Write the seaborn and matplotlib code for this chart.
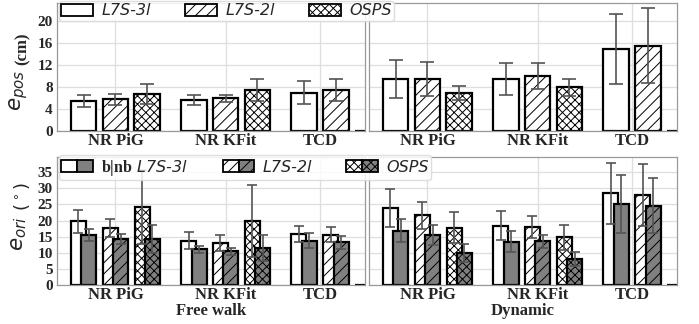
import numpy as np
import pandas as pd
import matplotlib
matplotlib.use("Agg")
import matplotlib.pyplot as plt
import seaborn as sns
from matplotlib.patches import Patch
from matplotlib.legend_handler import HandlerTuple
from matplotlib.font_manager import FontProperties

# ---------------- data ----------------
categories = ["NR PiG", "NR KFit", "TCD"]
methods = ["L7S-3l", "L7S-2l", "OSPS"]
panels = ["Free walk", "Dynamic"]

# position error e_pos (cm)
pos_free_mean = {"L7S-3l": [5.35, 5.5, 6.9], "L7S-2l": [5.7, 5.9, 7.4], "OSPS": [6.7, 7.45, 0.0]}
pos_free_std = {"L7S-3l": [1.05, 0.9, 2.1], "L7S-2l": [0.95, 0.6, 2.0], "OSPS": [1.85, 2.0, 0.0]}
pos_dyn_mean = {"L7S-3l": [9.35, 9.45, 14.8], "L7S-2l": [9.35, 9.9, 15.45], "OSPS": [6.85, 7.9, 0.0]}
pos_dyn_std = {"L7S-3l": [3.5, 2.9, 6.4], "L7S-2l": [3.1, 2.4, 6.8], "OSPS": [1.35, 1.55, 0.0]}

# orientation error e_ori (deg), b = with body, nb = no body
ori_free_b_mean = {"L7S-3l": [19.7, 13.8, 15.8], "L7S-2l": [17.7, 12.9, 15.6], "OSPS": [24.1, 19.9, 0.0]}
ori_free_b_std = {"L7S-3l": [3.5, 2.6, 2.5], "L7S-2l": [2.8, 2.5, 2.4], "OSPS": [11.5, 11.1, 0.0]}
ori_free_nb_mean = {"L7S-3l": [15.5, 11.1, 13.8], "L7S-2l": [14.3, 10.5, 13.2], "OSPS": [14.2, 11.6, 0.0]}
ori_free_nb_std = {"L7S-3l": [1.9, 1.1, 2.4], "L7S-2l": [1.45, 1.1, 2.1], "OSPS": [4.4, 4.0, 0.0]}
ori_dyn_b_mean = {"L7S-3l": [23.9, 18.4, 28.4], "L7S-2l": [21.6, 18.0, 27.9], "OSPS": [17.7, 14.8, 0.0]}
ori_dyn_b_std = {"L7S-3l": [5.8, 4.5, 9.6], "L7S-2l": [4.1, 3.3, 9.6], "OSPS": [4.8, 3.8, 0.0]}
ori_dyn_nb_mean = {"L7S-3l": [16.8, 13.4, 25.1], "L7S-2l": [15.5, 13.5, 24.6], "OSPS": [9.9, 8.1, 0.0]}
ori_dyn_nb_std = {"L7S-3l": [3.6, 3.3, 8.9], "L7S-2l": [3.0, 2.1, 8.5], "OSPS": [2.7, 2.2, 0.0]}

legend_top = ["L7S-3l", "L7S-2l", "OSPS"]
legend_bottom = [r"$\mathbf{b|nb}$ L7S-3l", "L7S-2l", "OSPS"]
yticks_pos = [0, 4, 8, 12, 16, 20]
yticks_ori = [0, 5, 10, 15, 20, 25, 30, 35]

# ---------------- style ----------------
hatches = ["", "///", "xxxx"]
GROUP_W = 0.865
TOP_GAP = 0.2
BOT_GAP = 0.528
PAIR_OFF = 0.047
ERR_COLOR = "0.33"

sns.set_theme(style="whitegrid")
plt.rcParams.update({
    "font.family": ["Liberation Serif", "DejaVu Sans"],
    "font.weight": "normal",
    "mathtext.fontset": "custom",
    "mathtext.it": "DejaVu Sans:italic",
    "mathtext.rm": "DejaVu Sans",
    "mathtext.bf": "Liberation Serif:bold",
    "hatch.linewidth": 0.7,
    "grid.color": "0.87",
    "grid.linewidth": 0.9,
    "axes.edgecolor": "0.6",
    "axes.linewidth": 0.9,
    "xtick.major.size": 0,
    "ytick.major.size": 0,
})

fig = plt.figure(figsize=(6.99, 3.24), dpi=100)
W, H = 699.0, 324.0


def ax_at(x0, y0, x1, y1):
    return fig.add_axes([x0 / W, 1 - y1 / H, (x1 - x0) / W, (y1 - y0) / H])


axes = [[ax_at(57, 3, 364.5, 130.7), ax_at(369, 3, 676.5, 130.7)],
        [ax_at(57, 156.7, 364.5, 285), ax_at(369, 156.7, 676.5, 285)]]


def long_df(means, stds, offset):
    rows = []
    for m in methods:
        for i, c in enumerate(categories):
            rows.append(dict(x=i + offset, method=m, value=means[m][i], err=stds[m][i]))
    return pd.DataFrame(rows)


def draw(ax, df, face, gap, capsize):
    n0 = len(ax.containers)
    sns.barplot(data=df, x="x", y="value", hue="method", hue_order=methods,
                native_scale=True, width=GROUP_W, gap=gap,
                palette={m: face for m in methods}, saturation=1,
                edgecolor="black", linewidth=1.6, errorbar=None,
                legend=False, ax=ax)
    centers = {}
    for cont, hatch, m in zip(ax.containers[n0:], hatches, methods):
        sub = df[df.method == m]
        xs, ys, es = [], [], []
        for p, (_, r) in zip(cont.patches, sub.iterrows()):
            p.set_hatch(hatch)
            p.set_zorder(2)
            cx = p.get_x() + p.get_width() / 2
            centers.setdefault(int(round(r.x)), []).append((cx, r.value))
            if r.value > 0:
                xs.append(cx); ys.append(r.value); es.append(r.err)
        ax.errorbar(xs, ys, yerr=es, fmt="none", ecolor=ERR_COLOR,
                    elinewidth=1.2, capsize=capsize, capthick=1.2, zorder=4)
    return centers


def finish(ax, centers, ylim, yticks, left):
    ticks = []
    for i in range(len(categories)):
        cs = [c for c, v in centers[i] if v > 0]
        ticks.append(np.mean(cs))
    ax.set_xticks(ticks)
    ax.set_xticklabels(categories, fontweight="bold", fontsize=12)
    ax.set_xlim(-0.53, 2.26)
    ax.set_ylim(*ylim)
    ax.set_yticks(yticks)
    ax.set_yticklabels([str(t) for t in yticks], fontweight="bold", fontsize=11)
    ax.set_xlabel("")
    ax.set_ylabel("")
    ax.tick_params(axis="x", pad=1.5, bottom=False, length=0)
    ax.tick_params(axis="y", pad=3, left=False, length=0, labelleft=left)
    ax.grid(True, axis="both")


# top row: position error
for j, (mean, std) in enumerate([(pos_free_mean, pos_free_std), (pos_dyn_mean, pos_dyn_std)]):
    ax = axes[0][j]
    c = draw(ax, long_df(mean, std, 0.0), "white", TOP_GAP, 4.7)
    finish(ax, c, (0, 23.2), yticks_pos, j == 0)

# bottom row: orientation error, b (white) and nb (grey) overlapping pairs
for j, (bm, bs, nm, ns) in enumerate([
        (ori_free_b_mean, ori_free_b_std, ori_free_nb_mean, ori_free_nb_std),
        (ori_dyn_b_mean, ori_dyn_b_std, ori_dyn_nb_mean, ori_dyn_nb_std)]):
    ax = axes[1][j]
    cb = draw(ax, long_df(bm, bs, -PAIR_OFF), "white", BOT_GAP, 3.3)
    cn = draw(ax, long_df(nm, ns, PAIR_OFF), "0.5", BOT_GAP, 3.3)
    comb = {k: cb[k] + cn[k] for k in cb}
    finish(ax, comb, (0, 39.8), yticks_ori, j == 0)
    ax.set_xlabel(panels[j], fontsize=12, fontweight="bold", labelpad=0)

# y labels
fig.text(19 / W, 1 - 90 / H, r"$e_{pos}$", rotation=90, fontsize=15.5, ha="center", va="center")
fig.text(23 / W, 1 - 49 / H, "(cm)", rotation=90, fontsize=12, ha="center", va="center",
         family="Liberation Serif", weight="bold")
fig.text(19 / W, 1 - 234 / H, r"$e_{ori}$", rotation=90, fontsize=15.5, ha="center", va="center")
fig.text(22 / W, 1 - 197 / H, r"$(\,^{\circ}\,)$", rotation=90, fontsize=13, ha="center", va="center")

# legends
lprop = FontProperties(family="DejaVu Sans", style="italic", size=11.5)
h_top = [Patch(facecolor="white", edgecolor="black", hatch=h, linewidth=1.3) for h in hatches]
fig.legend(h_top, legend_top, loc="center left", bbox_to_anchor=(59 / W, 1 - 10.8 / H),
           ncol=3, prop=lprop, handlelength=2.0, handleheight=0.75, handletextpad=0.5,
           columnspacing=2.15, borderpad=0.15, borderaxespad=0, framealpha=0.85,
           edgecolor="0.85", fancybox=True)

h_bot = [(Patch(facecolor="white", edgecolor="black", hatch=h, linewidth=1.3),
          Patch(facecolor="0.5", edgecolor="black", hatch=h, linewidth=1.3)) for h in hatches]
fig.legend(h_bot, legend_bottom, loc="center left", bbox_to_anchor=(59 / W, 1 - 167.5 / H),
           ncol=3, prop=lprop, handlelength=2.0, handleheight=0.75, handletextpad=0.5,
           columnspacing=2.15, borderpad=0.15, borderaxespad=0, framealpha=0.85,
           edgecolor="0.85", fancybox=True,
           handler_map={tuple: HandlerTuple(ndivide=None, pad=0)})

fig.savefig("out.png", dpi=100)
